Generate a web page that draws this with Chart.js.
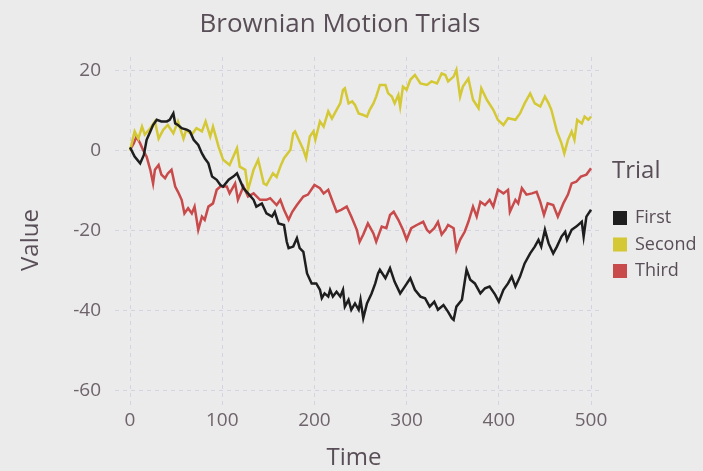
<!DOCTYPE html>
<html>
<head>
<meta charset="utf-8">
<script src="https://cdn.jsdelivr.net/npm/chart.js@4/dist/chart.umd.min.js"></script>
<style>
  body { margin: 0; background: #ebebeb; }
  canvas { display: block; }
</style>
</head>
<body>
<canvas id="myChart" width="703" height="471"></canvas>
<script>
"use strict";

// values
const firstTime = [0, 5, 11, 15, 18, 22, 25, 29, 34, 40, 43, 47, 49, 52, 56, 62, 65, 69, 74, 78, 81, 85, 89, 94, 98, 101, 107, 112, 116, 119, 123, 128, 134, 137, 143, 148, 154, 157, 161, 167, 170, 172, 177, 181, 184, 188, 192, 197, 202, 206, 208, 211, 215, 217, 220, 224, 228, 231, 233, 237, 240, 244, 248, 250, 253, 257, 262, 266, 269, 271, 277, 282, 287, 293, 298, 304, 309, 315, 320, 325, 330, 334, 340, 345, 349, 351, 354, 360, 365, 369, 374, 380, 385, 390, 396, 400, 405, 410, 414, 418, 423, 428, 434, 439, 443, 446, 450, 454, 459, 463, 468, 472, 474, 479, 484, 490, 492, 495, 500];
const firstValue = [0.8, -1.5, -3.2, -1.1, 2.7, 4.8, 6.4, 7.7, 7.3, 7.3, 7.7, 9.3, 6.8, 6.4, 5.6, 5.2, 4.8, 2.7, 1.4, -0.7, -1.9, -3.2, -6.5, -7.3, -8.6, -9, -7.3, -6.5, -5.7, -7.3, -9.4, -10.7, -12.3, -14, -13.2, -15.7, -16.5, -15.3, -18.2, -18.6, -22.8, -24.4, -24, -21.9, -24.4, -25.3, -30.7, -33.2, -33.2, -34.8, -36.9, -35.7, -36.5, -34.8, -36.5, -35.3, -36.5, -34.8, -39, -37.3, -39.8, -38.2, -39.8, -37.3, -41.9, -38.2, -35.7, -33.2, -30.7, -29.8, -31.9, -29.4, -32.8, -35.7, -34, -31.9, -34.8, -36.5, -36.9, -39, -37.8, -39.8, -38.6, -40.3, -41.9, -42.3, -39, -37.3, -29.8, -32.3, -33.2, -35.7, -34.4, -34, -36, -37.8, -34.8, -33.2, -31.5, -34, -31.5, -28.2, -25.7, -24, -22.3, -24, -19.8, -23.2, -25.7, -24, -21.5, -20.3, -22.3, -19.8, -19, -17.8, -21.5, -16.5, -14.8];

const secondTime = [0, 5, 9, 13, 16, 22, 27, 31, 36, 41, 47, 52, 58, 61, 67, 72, 78, 82, 87, 90, 96, 101, 108, 116, 119, 125, 128, 134, 139, 145, 148, 155, 159, 163, 167, 174, 177, 179, 183, 188, 191, 195, 199, 201, 206, 210, 215, 219, 224, 228, 231, 233, 237, 241, 244, 248, 253, 257, 260, 264, 267, 271, 277, 280, 284, 287, 291, 293, 296, 300, 304, 309, 315, 322, 327, 333, 338, 342, 345, 351, 354, 358, 361, 367, 372, 378, 381, 387, 394, 399, 405, 410, 418, 423, 428, 434, 439, 445, 450, 454, 457, 463, 468, 471, 475, 479, 482, 485, 490, 493, 497, 500];
const secondValue = [0, 4.8, 3, 6, 4, 5.6, 7.3, 3, 5.2, 6.4, 4.3, 7.3, 3, 5.2, 4, 5.6, 4.8, 7.3, 3.5, 6, 1, -2.3, -3.6, 0.6, -4, -4.8, -9.8, -4.8, -2.3, -8.2, -8.6, -5.7, -6.6, -4, -1.9, 0.2, 4.3, 4.8, 2.7, 0.2, -1.9, 3.5, 4.8, 2.7, 7.3, 6, 9.8, 8, 10.2, 11.8, 15.2, 15.6, 11.8, 12.3, 11.4, 9.3, 8.9, 8.5, 10.2, 11.8, 13.5, 16.4, 16.4, 14.3, 13.5, 11.8, 13.9, 11, 16, 15.2, 17.7, 18.9, 16.8, 16.4, 17.3, 16.8, 19.3, 18.9, 17.3, 18.5, 20.2, 13.5, 16, 18, 12.7, 10.6, 15.6, 12.7, 10.2, 7.7, 6.4, 8.1, 7.7, 9.3, 11.8, 14.3, 11.8, 11, 13.5, 11.8, 10.2, 4.8, 1.8, -0.7, 2.7, 4.8, 2.7, 7.7, 6.8, 8.5, 7.7, 8.5];

const thirdTime = [0, 4, 7, 11, 14, 18, 22, 25, 27, 31, 34, 38, 41, 45, 49, 52, 56, 59, 63, 67, 70, 74, 78, 81, 85, 90, 94, 98, 105, 108, 114, 117, 123, 128, 134, 141, 148, 152, 159, 163, 167, 172, 176, 181, 188, 193, 200, 206, 210, 215, 219, 224, 229, 235, 240, 246, 249, 253, 258, 264, 267, 273, 278, 282, 286, 291, 296, 300, 305, 311, 318, 322, 325, 330, 334, 338, 342, 345, 351, 354, 358, 363, 367, 372, 376, 380, 385, 390, 394, 399, 405, 410, 412, 418, 421, 425, 430, 436, 441, 445, 449, 453, 459, 464, 470, 475, 479, 484, 489, 495, 500];
const thirdValue = [0.2, 1.8, 3.5, 1.8, 0.2, -1.5, -4.8, -8.2, -4.8, -3.6, -6, -6.9, -5.7, -4.8, -9, -10.3, -12.3, -15.7, -14.4, -15.7, -14, -19.8, -16.5, -17.3, -14, -13.2, -9.8, -9, -9, -10.7, -8.2, -12.3, -9, -11.5, -10.7, -12.3, -12.3, -11.9, -13.6, -12.3, -14.8, -17.3, -15.3, -13.6, -11.5, -11, -8.6, -9.4, -10.7, -9.8, -12.3, -15.3, -14.8, -14, -16.5, -19.8, -22.8, -21, -18.2, -20.7, -22.8, -19, -19.4, -16.1, -15.3, -17.3, -19.8, -22.3, -19.4, -18.6, -17.8, -19.8, -20.5, -19.4, -17.8, -21, -19.8, -18.6, -19.4, -24.8, -22.3, -20.3, -17.8, -14, -16.5, -12.8, -13.6, -12.3, -14, -9.8, -10.7, -9.8, -15.3, -12.3, -13.2, -9.4, -11, -10.7, -10.3, -12.8, -16.1, -13.2, -13.6, -16.5, -13.2, -11, -8.2, -7.8, -6.5, -6, -4.4];

const seriesNames = ["First", "Second", "Third"];
const seriesColors = ["#1e1e1e", "#d4c835", "#c84a4b"];
const xTicks = [0, 100, 200, 300, 400, 500];
const yTicks = [-60, -40, -20, 0, 20];

const textColor = "#594e57";
const tickColor = "#6e636b";
const fontName = "'Open Sans', sans-serif";

const toPoints = (times, values) => times.map((t, i) => ({ x: t, y: values[i] }));

const seriesData = [
  toPoints(firstTime, firstValue),
  toPoints(secondTime, secondValue),
  toPoints(thirdTime, thirdValue),
];

const datasets = seriesNames.map((name, i) => ({
  label: name,
  data: seriesData[i],
  borderColor: seriesColors[i],
  backgroundColor: seriesColors[i],
  borderWidth: 2.5,
  pointRadius: 0,
  tension: 0,
}));

// titles and legend drawn by hand so they sit where the reference puts them
const textPlugin = {
  id: "texts",
  afterDraw(chart) {
    const c = chart.ctx;
    c.save();
    c.fillStyle = textColor;
    c.textBaseline = "middle";
    c.textAlign = "center";
    c.font = `26px ${fontName}`;
    c.fillText("Brownian Motion Trials", 340, 25);
    c.font = `24px ${fontName}`;
    c.fillText("Time", 354, 458);
    c.save();
    c.translate(31, 240);
    c.rotate(-Math.PI / 2);
    c.fillText("Value", 0, 0);
    c.restore();

    c.textAlign = "left";
    c.font = `24px ${fontName}`;
    c.fillText("Trial", 612, 171);
    c.font = `18px ${fontName}`;
    seriesNames.forEach((name, i) => {
      const y = 218 + i * 26.5;
      c.fillStyle = seriesColors[i];
      c.fillRect(613, y - 7, 14, 14);
      c.fillStyle = textColor;
      c.fillText(name, 635, y);
    });
    c.restore();
  },
};

const gridStyle = {
  color: "#d3d3e3",
  lineWidth: 1,
  drawTicks: false,
};

new Chart(document.getElementById("myChart"), {
  type: "line",
  data: { datasets: datasets },
  options: {
    responsive: false,
    animation: false,
    devicePixelRatio: 1,
    layout: { padding: { top: 57, right: 100, left: 0, bottom: 0 } },
    plugins: {
      legend: { display: false },
      title: { display: false },
      tooltip: { enabled: false },
    },
    scales: {
      x: {
        type: "linear",
        min: -16.3,
        max: 513,
        afterFit: (scale) => { scale.height = 66; },
        afterBuildTicks: (scale) => { scale.ticks = xTicks.map((v) => ({ value: v })); },
        grid: gridStyle,
        border: { display: false, dash: [4, 4] },
        ticks: { color: tickColor, font: { family: fontName, size: 19 }, padding: 4, maxRotation: 0 },
      },
      y: {
        type: "linear",
        min: -63.6,
        max: 23.4,
        afterFit: (scale) => { scale.width = 115; },
        afterBuildTicks: (scale) => { scale.ticks = yTicks.map((v) => ({ value: v })); },
        grid: gridStyle,
        border: { display: false, dash: [4, 4] },
        ticks: { color: tickColor, font: { family: fontName, size: 19 }, padding: 14 },
      },
    },
  },
  plugins: [textPlugin],
});
</script>
</body>
</html>
